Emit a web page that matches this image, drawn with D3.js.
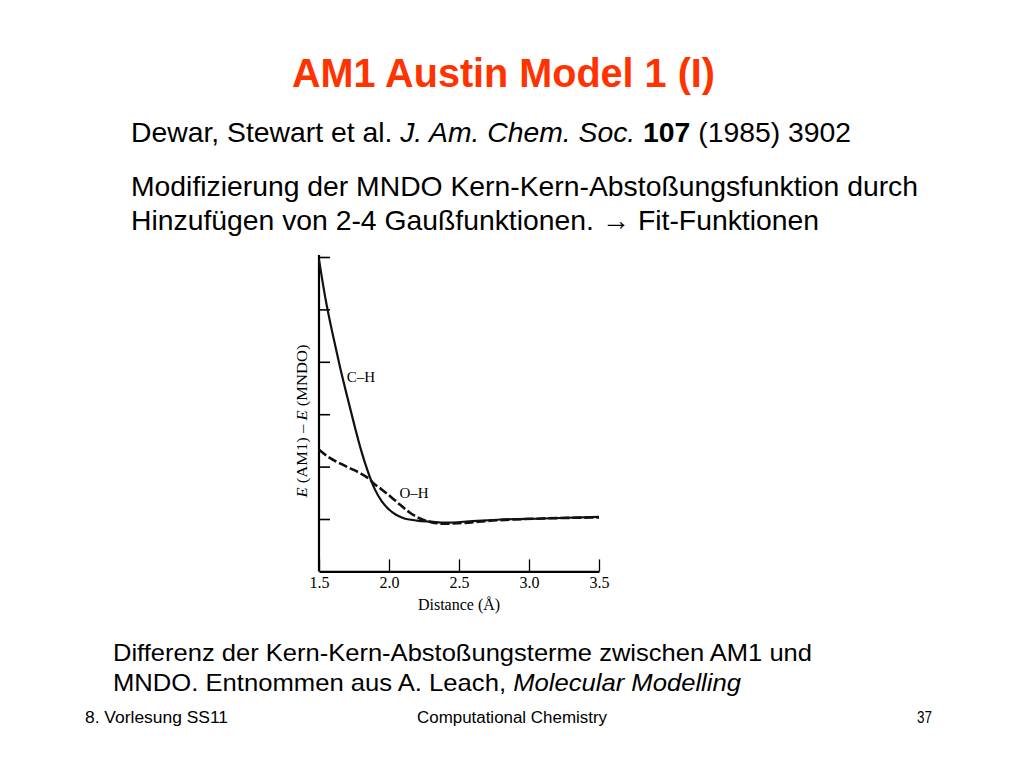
<!DOCTYPE html>
<html>
<head>
<meta charset="utf-8">
<script src="https://cdn.jsdelivr.net/npm/d3@7"></script>
<style>
  html, body { margin: 0; padding: 0; background: #fff; }
  svg { display: block; }
</style>
</head>
<body>
<svg id="c" width="1024" height="768"></svg>
<script>
// ---- data ----
const chDistance = [1.5, 1.55, 1.6, 1.65, 1.7, 1.75, 1.8, 1.85, 1.9, 1.95, 2.0, 2.05, 2.1, 2.2, 2.3, 2.4, 2.6, 2.8, 3.1, 3.5];
const chEnergy   = [4.95, 4.15, 3.5, 2.9, 2.35, 1.82, 1.32, 0.9, 0.56, 0.33, 0.18, 0.08, 0.02, -0.03, -0.05, -0.07, -0.04, -0.01, 0.01, 0.04];
const ohDistance = [1.5, 1.58, 1.65, 1.72, 1.79, 1.86, 1.89, 1.95, 2.01, 2.08, 2.15, 2.23, 2.3, 2.39, 2.5, 2.74, 3.1, 3.5];
const ohEnergy   = [1.32, 1.16, 1.06, 0.97, 0.88, 0.76, 0.68, 0.56, 0.43, 0.27, 0.12, 0.0, -0.06, -0.09, -0.08, -0.03, 0.01, 0.03];
const xTicks = [1.5, 2.0, 2.5, 3.0, 3.5];
const yTicks = [0, 1, 2, 3, 4, 5];
const seriesLabels = ["C–H", "O–H"];

const svg = d3.select("#c");
const sans = "'Liberation Sans', Arial, Helvetica, sans-serif";
const serif = "'Liberation Serif', 'Times New Roman', serif";

// ---- title & texts ----
svg.append("text").attr("x", 292).attr("y", 87)
  .attr("font-family", sans).attr("font-weight", "bold").attr("font-size", 40)
  .attr("fill", "#ff3300").attr("textLength", 423).attr("lengthAdjust", "spacingAndGlyphs")
  .text("AM1 Austin Model 1 (I)");

function richLine(x, y, size, width, parts) {
  const t = svg.append("text").attr("x", x).attr("y", y)
    .attr("font-family", sans).attr("font-size", size).attr("fill", "#000")
    .attr("textLength", width).attr("lengthAdjust", "spacingAndGlyphs");
  parts.forEach(p => {
    const s = t.append("tspan").text(p[0]);
    if (p[1] === "i") s.attr("font-style", "italic");
    if (p[1] === "b") s.attr("font-weight", "bold");
  });
  return t;
}
richLine(131, 142, 28, 720, [["Dewar, Stewart et al. "], ["J. Am. Chem. Soc.", "i"], [" "], ["107", "b"], [" (1985) 3902"]]);
richLine(131, 196, 28, 787, [["Modifizierung der MNDO Kern-Kern-Abstoßungsfunktion durch"]]);
richLine(131, 230, 28, 688, [["Hinzufügen von 2-4 Gaußfunktionen. → Fit-Funktionen"]]);
richLine(113, 661, 24, 699, [["Differenz der Kern-Kern-Abstoßungsterme zwischen AM1 und"]]);
richLine(113, 691, 24, 628, [["MNDO. Entnommen aus A. Leach, "], ["Molecular Modelling", "i"]]);
richLine(85, 723, 16, 143, [["8. Vorlesung SS11"]]);
richLine(417, 723, 16, 190, [["Computational Chemistry"]]);
richLine(917, 723, 16, 15, [["37"]]);

// ---- chart ----
const x = d3.scaleLinear().domain([1.5, 3.5]).range([319, 599]);
const y = d3.scaleLinear().domain([0, 5]).range([519, 257]);
const yBottom = y(-1);

const gx = svg.append("g").attr("transform", `translate(0,${yBottom})`)
  .call(d3.axisBottom(x).tickValues(xTicks).tickFormat(d3.format(".1f"))
    .tickSizeInner(-12).tickSizeOuter(0).tickPadding(5));
gx.select(".domain").attr("stroke", "#000").attr("stroke-width", 2.2);
gx.selectAll(".tick line").attr("stroke", "#000").attr("stroke-width", 1.3);
gx.selectAll(".tick text").attr("font-family", serif).attr("font-size", 16).attr("fill", "#000");

const gy = svg.append("g").attr("transform", `translate(${x(1.5)},0)`)
  .call(d3.axisLeft(y).tickValues(yTicks).tickFormat("").tickSizeInner(-11).tickSizeOuter(0));
gy.select(".domain").attr("stroke", "#000").attr("stroke-width", 2.2)
  .attr("d", `M0,${yBottom}V${y(5) - 2}`);
gy.selectAll(".tick line").attr("stroke", "#000").attr("stroke-width", 1.6);

const line = d3.line().x(d => x(d[0])).y(d => y(d[1])).curve(d3.curveMonotoneX);
const ch = chDistance.map((d, i) => [d, chEnergy[i]]);
const oh = ohDistance.map((d, i) => [d, ohEnergy[i]]);

svg.append("path").datum(oh).attr("d", line).attr("fill", "none")
  .attr("stroke", "#111").attr("stroke-width", 2.6).attr("stroke-dasharray", "9,3");
svg.append("path").datum(ch).attr("d", line).attr("fill", "none")
  .attr("stroke", "#111").attr("stroke-width", 2.2);

svg.append("text").attr("x", 361).attr("y", 382).attr("text-anchor", "middle")
  .attr("font-family", serif).attr("font-size", 15).text(seriesLabels[0]);
svg.append("text").attr("x", 414).attr("y", 498).attr("text-anchor", "middle")
  .attr("font-family", serif).attr("font-size", 15).text(seriesLabels[1]);

svg.append("text").attr("x", 459).attr("y", 610).attr("text-anchor", "middle")
  .attr("font-family", serif).attr("font-size", 16).text("Distance (Å)");

const yl = svg.append("text").attr("transform", "translate(307,421) rotate(-90)")
  .attr("text-anchor", "middle").attr("font-family", serif).attr("font-size", 15)
  .attr("textLength", 153).attr("lengthAdjust", "spacingAndGlyphs");
yl.append("tspan").attr("font-style", "italic").text("E");
yl.append("tspan").text(" (AM1) – ");
yl.append("tspan").attr("font-style", "italic").text("E");
yl.append("tspan").text(" (MNDO)");
</script>
</body>
</html>
